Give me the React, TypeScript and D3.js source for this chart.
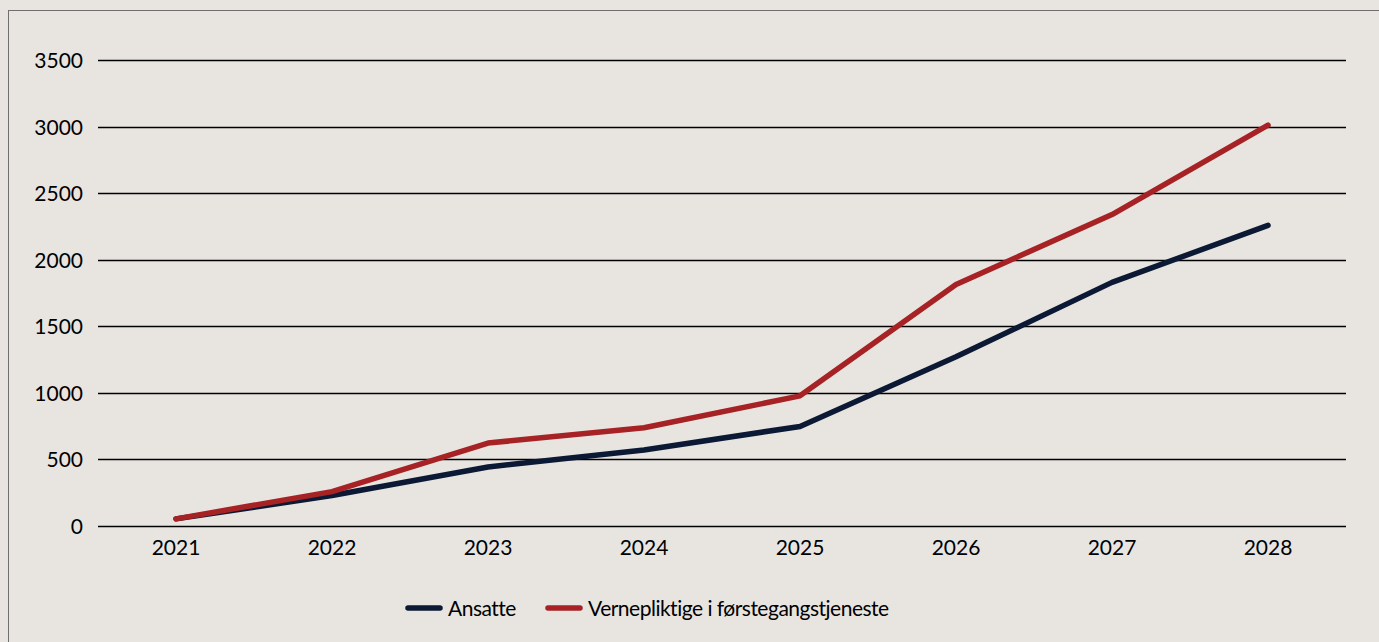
import React, { useEffect, useRef } from 'react';
import * as d3 from 'd3';

const years = ['2021', '2022', '2023', '2024', '2025', '2026', '2027', '2028'];
const ansatte = [50, 225, 440, 568, 745, 1268, 1828, 2257];
const vernepliktige = [50, 255, 620, 735, 975, 1812, 2338, 3010];
const yTicks = [0, 500, 1000, 1500, 2000, 2500, 3000, 3500];

const series = [
  { name: 'Ansatte', values: ansatte, color: '#0c1934' },
  { name: 'Vernepliktige i førstegangstjeneste', values: vernepliktige, color: '#a72225' },
];

const W = 1379;
const H = 642;

const App: React.FC = () => {
  const ref = useRef<SVGSVGElement | null>(null);

  useEffect(() => {
    const svg = d3.select(ref.current);
    svg.selectAll('*').remove();
    const font = "Lato, 'Open Sans', sans-serif";

    // background + frame
    svg.append('rect').attr('width', W).attr('height', H).attr('fill', '#e8e5e1');
    svg.append('rect')
      .attr('x', 8.5).attr('y', 10.5)
      .attr('width', W + 20).attr('height', H + 20)
      .attr('fill', 'none').attr('stroke', '#6f6f6f').attr('stroke-width', 1);

    const x = d3.scaleBand().domain(years).range([98, 1346]);
    const y = d3.scaleLinear().domain([0, 3500]).range([525.5, 60]);

    // gridlines
    svg.append('g')
      .selectAll('line')
      .data(yTicks)
      .enter()
      .append('line')
      .attr('x1', 98).attr('x2', 1346)
      .attr('y1', d => Math.round(y(d)) + 0.5).attr('y2', d => Math.round(y(d)) + 0.5)
      .attr('stroke', '#000').attr('stroke-width', 1.3);

    // y labels
    svg.append('g')
      .selectAll('text')
      .data(yTicks)
      .enter()
      .append('text')
      .attr('x', 83).attr('y', d => y(d) + 8)
      .attr('text-anchor', 'end')
      .attr('font-family', font).attr('font-size', 21)
      .attr('fill', '#000')
      .text(d => String(d));

    // x labels
    svg.append('g')
      .selectAll('text')
      .data(years)
      .enter()
      .append('text')
      .attr('x', d => x(d)! + x.bandwidth() / 2)
      .attr('y', 555)
      .attr('text-anchor', 'middle')
      .attr('font-family', font).attr('font-size', 21)
      .attr('fill', '#000')
      .text(d => d);

    // lines
    const line = d3.line<number>()
      .x((_, i) => x(years[i])! + x.bandwidth() / 2)
      .y(d => y(d));

    series.forEach(s => {
      svg.append('path')
        .datum(s.values)
        .attr('fill', 'none')
        .attr('stroke', s.color)
        .attr('stroke-width', 5.5)
        .attr('stroke-linecap', 'round')
        .attr('stroke-linejoin', 'round')
        .attr('d', line);
    });

    // legend
    const legendX = [408, 548];
    series.forEach((s, i) => {
      const g = svg.append('g').attr('transform', `translate(${legendX[i]},608)`);
      g.append('line')
        .attr('x1', 0).attr('x2', 32)
        .attr('stroke', s.color).attr('stroke-width', 5.5)
        .attr('stroke-linecap', 'round');
      g.append('text')
        .attr('x', 40).attr('y', 7.5)
        .attr('font-family', font).attr('font-size', 21)
        .attr('letter-spacing', -0.5)
        .attr('fill', '#000')
        .text(s.name);
    });
  }, []);

  return (
    <svg
      ref={ref}
      width={W}
      height={H}
      style={{ position: 'absolute', left: 0, top: 0, display: 'block' }}
    />
  );
};

export default App;
